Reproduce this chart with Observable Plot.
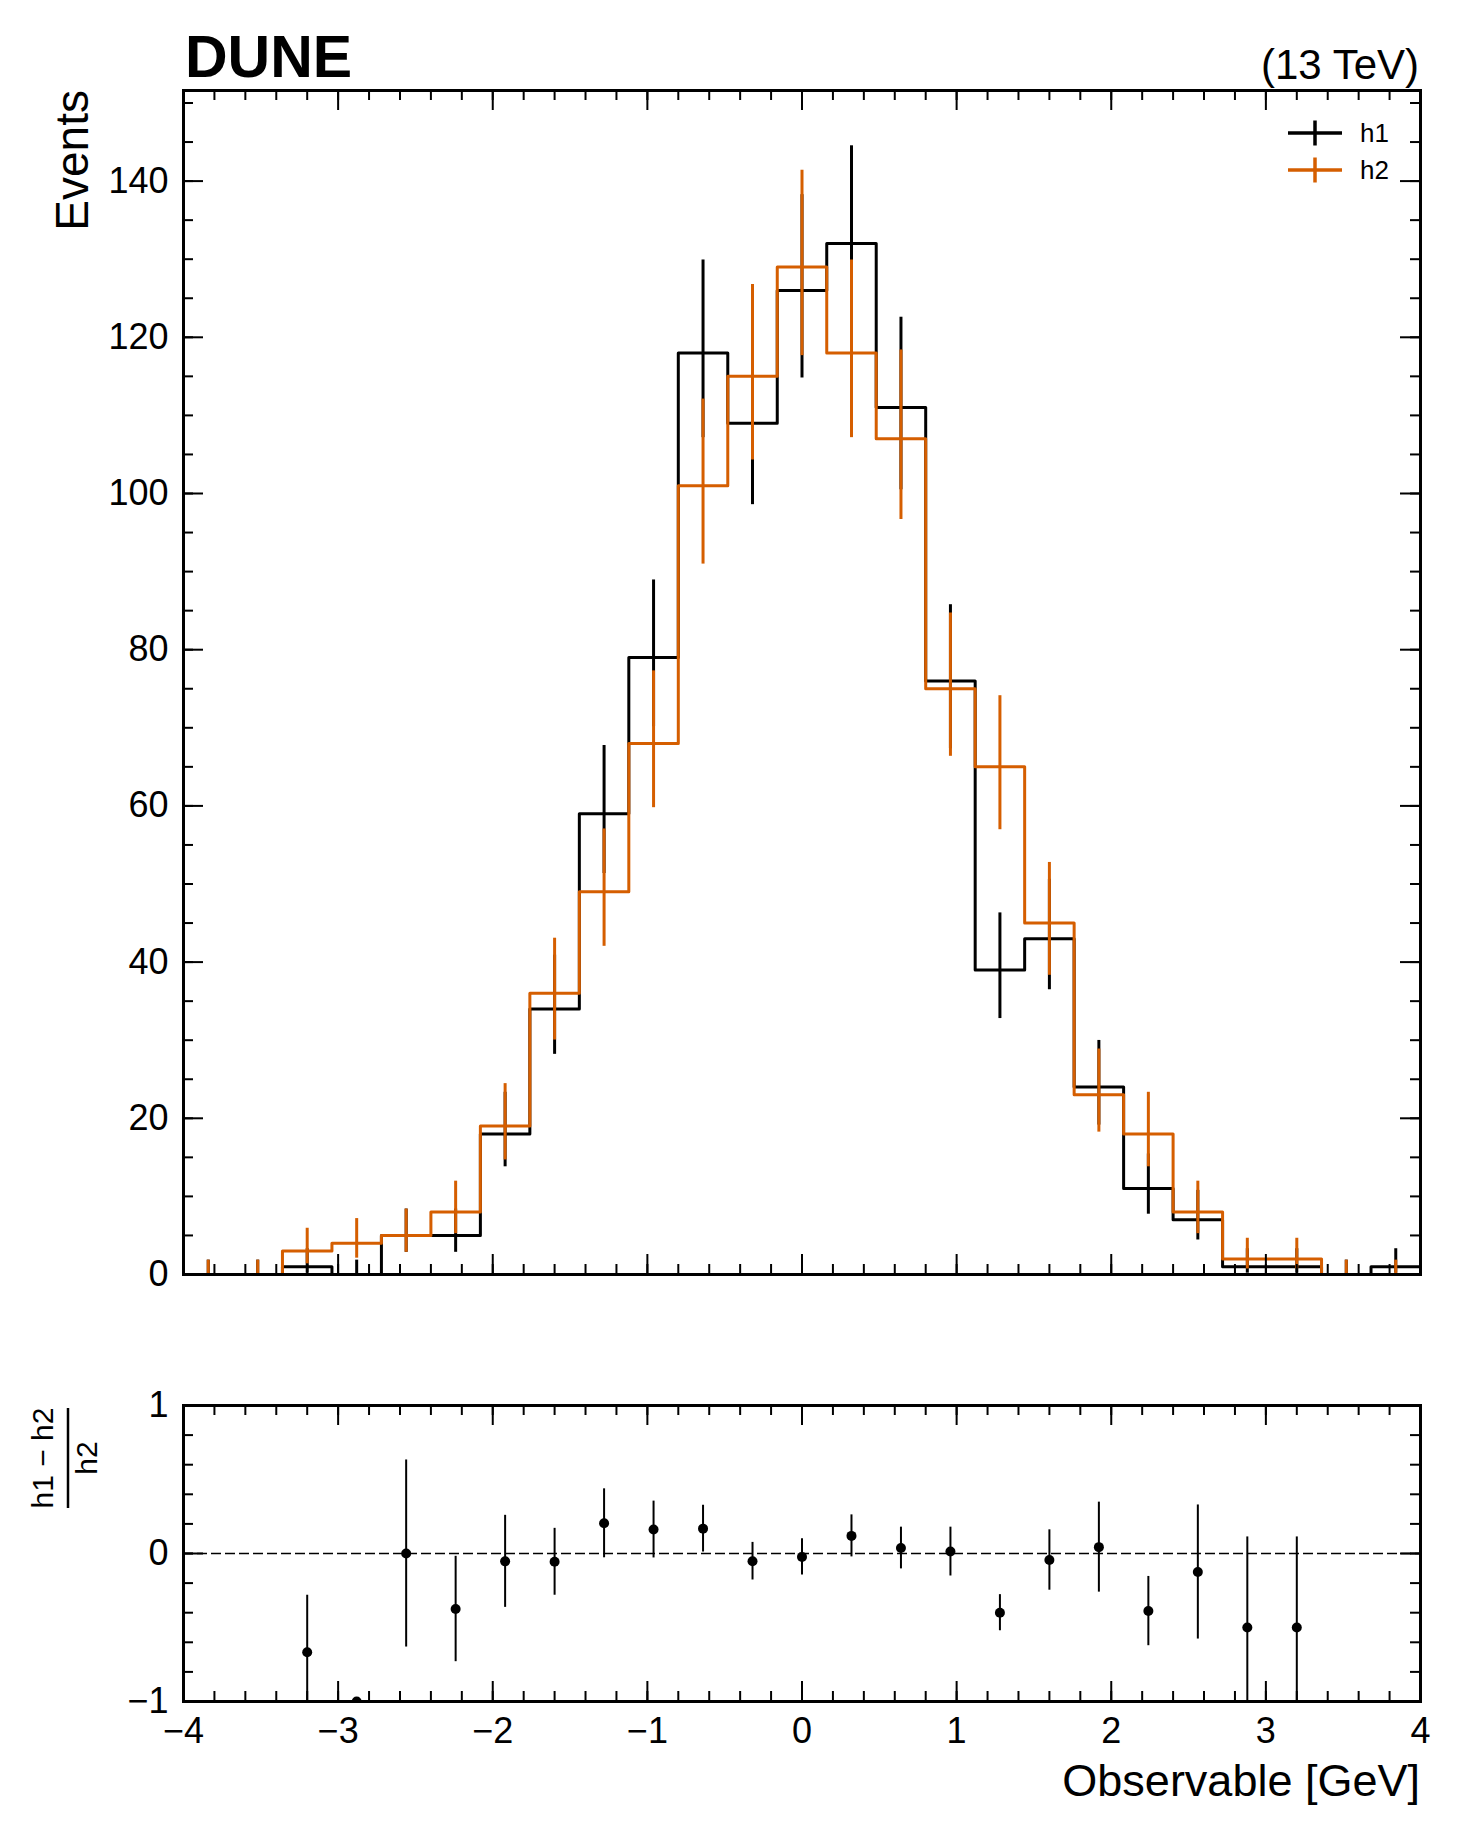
<!DOCTYPE html>
<html>
<head>
<meta charset="utf-8">
<script src="https://cdn.jsdelivr.net/npm/d3@7"></script>
<script src="https://cdn.jsdelivr.net/npm/@observablehq/plot@0.6"></script>
<style>
  html, body { margin: 0; padding: 0; background: #ffffff; }
  #chart { width: 1461px; }
  #chart svg { display: block; }
</style>
</head>
<body>
<div id="chart"></div>
<script>
// ---------------- data ----------------
const binEdges = [-4, -3.68, -3.36, -3.04, -2.72, -2.4, -2.08, -1.76, -1.44, -1.12, -0.8, -0.48, -0.16,
                  0.16, 0.48, 0.8, 1.12, 1.44, 1.76, 2.08, 2.4, 2.72, 3.04, 3.36, 3.68, 4];
const binCenters = [-3.84, -3.52, -3.2, -2.88, -2.56, -2.24, -1.92, -1.6, -1.28, -0.96, -0.64, -0.32, 0,
                    0.32, 0.64, 0.96, 1.28, 1.6, 1.92, 2.24, 2.56, 2.88, 3.2, 3.52, 3.84];

const h1 = [0, 0, 1, 0, 5, 5, 18, 34, 59, 79, 118, 109, 126, 132, 111, 76, 39, 43, 24, 11, 7, 1, 1, 0, 1];
const h1ErrLow = [0, 0, 0.83, 0, 2.16, 2.16, 4.21, 5.81, 7.66, 8.87, 10.85, 10.43, 11.21, 11.48, 10.52, 8.70,
                  6.23, 6.54, 4.87, 3.28, 2.58, 0.83, 0.83, 0, 0.83];
const h1ErrHigh = [1.84, 1.84, 2.30, 1.84, 3.38, 3.38, 5.33, 6.89, 8.73, 9.93, 11.90, 11.48, 12.26, 12.52, 11.57,
                   9.76, 7.30, 7.61, 5.97, 4.43, 3.77, 2.30, 2.30, 1.84, 2.30];

const h2 = [0, 0, 3, 4, 5, 8, 19, 36, 49, 68, 101, 115, 129, 118, 107, 75, 65, 45, 23, 18, 8, 2, 2, 0, 0];
const h2ErrLow = [0, 0, 1.63, 1.91, 2.16, 2.77, 4.33, 5.98, 6.98, 8.23, 10.04, 10.71, 11.35, 10.85, 10.33, 8.65,
                  8.05, 6.69, 4.77, 4.21, 2.77, 1.29, 1.29, 0, 0];
const h2ErrHigh = [1.84, 1.84, 2.92, 3.16, 3.38, 3.95, 5.44, 7.06, 8.05, 9.29, 11.09, 11.76, 12.39, 11.90, 11.38,
                   9.70, 9.11, 7.76, 5.87, 5.33, 3.95, 2.64, 2.64, 1.84, 1.84];

const ratioX = [-3.2, -2.88, -2.56, -2.24, -1.92, -1.6, -1.28, -0.96, -0.64, -0.32, 0, 0.32, 0.64, 0.96,
                1.28, 1.6, 1.92, 2.24, 2.56, 2.88, 3.2];
const ratioValue = [-0.667, -1, 0, -0.375, -0.053, -0.056, 0.204, 0.162, 0.168, -0.052, -0.023, 0.119, 0.037,
                    0.013, -0.4, -0.044, 0.043, -0.389, -0.125, -0.5, -0.5];
const ratioErr = [0.385, null, 0.632, 0.356, 0.311, 0.226, 0.233, 0.192, 0.158, 0.127, 0.122, 0.142, 0.141,
                  0.165, 0.122, 0.204, 0.304, 0.234, 0.453, 0.612, 0.612];

const xTicks = [-4, -3, -2, -1, 0, 1, 2, 3, 4];
const yTicksMain = [0, 20, 40, 60, 80, 100, 120, 140];
const yTicksRatio = [-1, 0, 1];
const seriesNames = ["h1", "h2"];
const seriesColors = ["#000000", "#d55e00"];

// ---------------- layout ----------------
const W = 1461;
const mL = 183, mR = 41;
const innerW = W - mL - mR;
const mainH = 1300, mainTop = 90, mainBottom = 26;
const mainInnerH = mainH - mainTop - mainBottom;
const ratioH = 536, ratioTop = 105, ratioBottom = 135;
const ratioInnerH = ratioH - ratioTop - ratioBottom;
const FONT = "'Liberation Sans', Arial, Helvetica, sans-serif";
const minus = d => (d < 0 ? "\u2212" + Math.abs(d) : String(d));

const xMinor = d3.range(-4, 4.0001, 0.2).map(v => +v.toFixed(2));
const yMinorMain = d3.range(0, 151, 5);
const yMinorRatio = d3.range(-1, 1.0001, 0.2).map(v => +v.toFixed(2));

function frameTicks(yMajor, yMinor, innerH) {
  const L = 20, l = 10, sw = 2;
  const st = {stroke: "#000", strokeWidth: sw};
  return [
    Plot.tickX(xTicks, {x: d => d, insetTop: innerH - L, ...st}),
    Plot.tickX(xTicks, {x: d => d, insetBottom: innerH - L, ...st}),
    Plot.tickX(xMinor, {x: d => d, insetTop: innerH - l, ...st}),
    Plot.tickX(xMinor, {x: d => d, insetBottom: innerH - l, ...st}),
    Plot.tickY(yMajor, {y: d => d, insetRight: innerW - L, ...st}),
    Plot.tickY(yMajor, {y: d => d, insetLeft: innerW - L, ...st}),
    Plot.tickY(yMinor, {y: d => d, insetRight: innerW - l, ...st}),
    Plot.tickY(yMinor, {y: d => d, insetLeft: innerW - l, ...st})
  ];
}

// step series: left edges plus the final right edge
function stepData(vals) {
  return binEdges.map((e, i) => ({x: e, y: vals[Math.min(i, vals.length - 1)]}));
}
function errData(vals, lo, hi) {
  return binCenters.map((c, i) => ({x: c, y1: vals[i] - lo[i], y2: vals[i] + hi[i]}));
}

// ---------------- main panel ----------------
const main = Plot.plot({
  width: W,
  height: mainH,
  marginLeft: mL, marginRight: mR, marginTop: mainTop, marginBottom: mainBottom,
  style: {fontFamily: FONT, fontSize: "36px", color: "#000", background: "#fff", overflow: "visible"},
  x: {domain: [-4, 4], axis: null},
  y: {domain: [0, 151.6]},
  marks: [
    Plot.line(stepData(h1), {x: "x", y: "y", curve: "step-after", stroke: seriesColors[0], strokeWidth: 3, clip: true}),
    Plot.ruleX(errData(h1, h1ErrLow, h1ErrHigh), {x: "x", y1: "y1", y2: "y2", stroke: seriesColors[0], strokeWidth: 3, clip: true}),
    Plot.line(stepData(h2), {x: "x", y: "y", curve: "step-after", stroke: seriesColors[1], strokeWidth: 3, clip: true}),
    Plot.ruleX(errData(h2, h2ErrLow, h2ErrHigh), {x: "x", y1: "y1", y2: "y2", stroke: seriesColors[1], strokeWidth: 3, clip: true}),
    ...frameTicks(yTicksMain, yMinorMain, mainInnerH),
    Plot.axisY(yTicksMain, {anchor: "left", tickSize: 0, tickPadding: 15, label: null, fontSize: 36, tickFormat: minus}),
    Plot.frame({stroke: "#000", strokeWidth: 3})
  ]
});

// ---------------- ratio panel ----------------
const ratioRows = ratioX.map((x, i) => ({x, y: ratioValue[i], e: ratioErr[i]}));
const ratio = Plot.plot({
  width: W,
  height: ratioH,
  marginLeft: mL, marginRight: mR, marginTop: ratioTop, marginBottom: ratioBottom,
  style: {fontFamily: FONT, fontSize: "36px", color: "#000", background: "#fff", overflow: "visible"},
  x: {domain: [-4, 4]},
  y: {domain: [-1, 1]},
  marks: [
    Plot.ruleY([0], {stroke: "#000", strokeWidth: 1.5, strokeDasharray: "10,4"}),
    Plot.ruleX(ratioRows.filter(d => d.e != null), {x: "x", y1: d => d.y - d.e, y2: d => d.y + d.e, stroke: "#000", strokeWidth: 2, clip: true}),
    Plot.dot(ratioRows, {x: "x", y: "y", r: 5, fill: "#000", stroke: null, clip: true}),
    ...frameTicks(yTicksRatio, yMinorRatio, ratioInnerH),
    Plot.axisX(xTicks, {anchor: "bottom", tickSize: 0, tickPadding: 16, label: null, fontSize: 36, tickFormat: minus}),
    Plot.axisY(yTicksRatio, {anchor: "left", tickSize: 0, tickPadding: 15, label: null, fontSize: 36, tickFormat: minus}),
    Plot.frame({stroke: "#000", strokeWidth: 3})
  ]
});

// ---------------- labels & legend ----------------
const ms = d3.select(main);
ms.append("text").attr("x", 185).attr("y", 77).attr("text-anchor", "start")
  .attr("font-family", FONT).attr("font-size", 59).attr("font-weight", "bold").attr("fill", "#000")
  .text("DUNE");
ms.append("text").attr("x", 1419).attr("y", 79).attr("text-anchor", "end")
  .attr("font-family", FONT).attr("font-size", 42).attr("fill", "#000")
  .text("(13 TeV)");
ms.append("text").attr("transform", "translate(88,90) rotate(-90)").attr("text-anchor", "end")
  .attr("font-family", FONT).attr("font-size", 46).attr("fill", "#000")
  .text("Events");

const legY = [133, 170];
seriesNames.forEach((name, i) => {
  const g = ms.append("g");
  g.append("line").attr("x1", 1288).attr("x2", 1342).attr("y1", legY[i]).attr("y2", legY[i])
    .attr("stroke", seriesColors[i]).attr("stroke-width", 3.5);
  g.append("line").attr("x1", 1315).attr("x2", 1315).attr("y1", legY[i] - 12.5).attr("y2", legY[i] + 12.5)
    .attr("stroke", seriesColors[i]).attr("stroke-width", 3.5);
  g.append("text").attr("x", 1360).attr("y", legY[i] + 9).attr("text-anchor", "start")
    .attr("font-family", FONT).attr("font-size", 26).attr("fill", "#000").text(name);
});

const rs = d3.select(ratio);
rs.append("text").attr("transform", "translate(53,158) rotate(-90)").attr("text-anchor", "middle")
  .attr("font-family", FONT).attr("font-size", 30).attr("fill", "#000").text("h1 \u2212 h2");
rs.append("line").attr("x1", 68).attr("x2", 68).attr("y1", 108).attr("y2", 208)
  .attr("stroke", "#000").attr("stroke-width", 2.5);
rs.append("text").attr("transform", "translate(97,158) rotate(-90)").attr("text-anchor", "middle")
  .attr("font-family", FONT).attr("font-size", 30).attr("fill", "#000").text("h2");
rs.append("text").attr("x", 1420).attr("y", 496).attr("text-anchor", "end")
  .attr("font-family", FONT).attr("font-size", 45).attr("fill", "#000").text("Observable [GeV]");

const chart = document.getElementById("chart");
chart.appendChild(main);
chart.appendChild(ratio);
</script>
</body>
</html>
